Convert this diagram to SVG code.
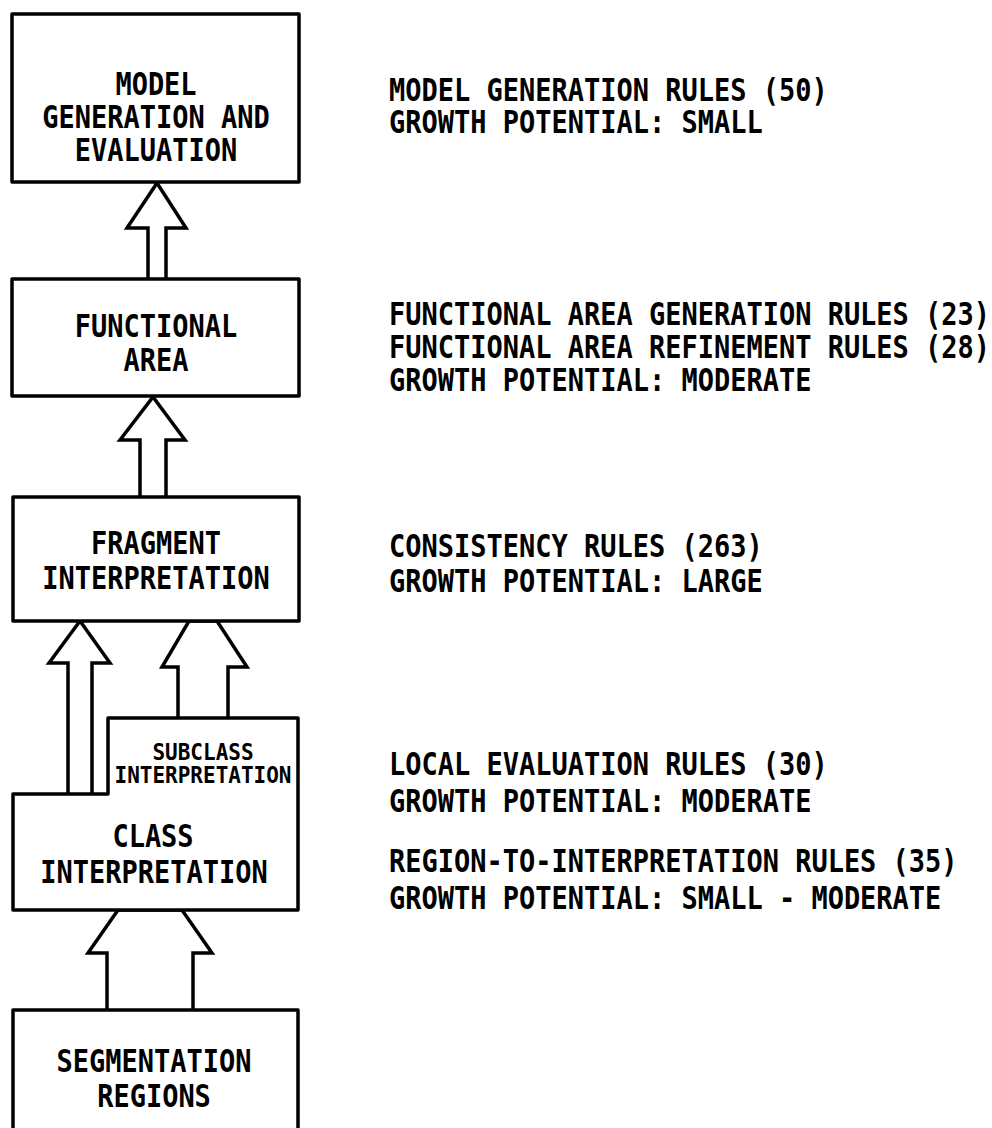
<svg xmlns="http://www.w3.org/2000/svg" width="992" height="1128" viewBox="0 0 992 1128">
<style>
.box{fill:#fff;stroke:#000;stroke-width:3.5;stroke-linejoin:round}
.arrow{fill:#fff;stroke:#000;stroke-width:3.5;stroke-linejoin:miter}
text{font-family:"DejaVu Sans Mono","Liberation Mono",monospace;font-weight:bold;fill:#000}
.lbl{font-size:27px;text-anchor:middle}
.small{font-size:21px;text-anchor:middle}
.note{font-size:27px}
</style>
<rect x="0" y="0" width="992" height="1128" fill="#fff"/>
<g id="connectors">
<path class="arrow" d="M148,279 V228 H127 L157,183 L186,228 H166 V279"/>
<path class="arrow" d="M140,497 V440 H120 L153,397 L185,440 H166 V497"/>
<path class="arrow" d="M68,794 V663 H49 L80,621 L110,663 H92 V794"/>
<path class="arrow" d="M178,718 V667 H162 L189,621 H217 L247,667 H228 V718"/>
<path class="arrow" d="M107,1010 V953 H88 L118,910 H182 L212,953 H193 V1010"/>
</g>
<g id="model-generation">
<rect class="box" x="12" y="14" width="287" height="168"/>
<text class="lbl" transform="matrix(1 0 0 1.15 156 95)">MODEL</text>
<text class="lbl" transform="matrix(1 0 0 1.15 156 128)">GENERATION AND</text>
<text class="lbl" transform="matrix(1 0 0 1.15 156 161)">EVALUATION</text>
</g>
<g id="functional-area">
<rect class="box" x="12" y="279" width="287" height="117"/>
<text class="lbl" transform="matrix(1 0 0 1.15 156 337)">FUNCTIONAL</text>
<text class="lbl" transform="matrix(1 0 0 1.15 156 371)">AREA</text>
</g>
<g id="fragment-interpretation">
<rect class="box" x="13" y="497" width="286" height="124"/>
<text class="lbl" transform="matrix(1 0 0 1.15 156 554)">FRAGMENT</text>
<text class="lbl" transform="matrix(1 0 0 1.15 156 589)">INTERPRETATION</text>
</g>
<g id="class-interpretation">
<path class="box" d="M13,794 H108 V718 H298 V910 H13 Z"/>
<text class="lbl" transform="matrix(1 0 0 1.15 153 847)">CLASS</text>
<text class="lbl" transform="matrix(1 0 0 1.15 154 883)">INTERPRETATION</text>
</g>
<g id="subclass-interpretation">
<text class="small" transform="matrix(1 0 0 1.1 203 760)">SUBCLASS</text>
<text class="small" transform="matrix(1 0 0 1.1 203 783)">INTERPRETATION</text>
</g>
<g id="segmentation-regions">
<rect class="box" x="13" y="1010" width="285" height="140"/>
<text class="lbl" transform="matrix(1 0 0 1.15 154 1072)">SEGMENTATION</text>
<text class="lbl" transform="matrix(1 0 0 1.15 154 1107)">REGIONS</text>
</g>
<g id="notes">
<text class="note" transform="matrix(1 0 0 1.15 389 101)">MODEL GENERATION RULES (50)</text>
<text class="note" transform="matrix(1 0 0 1.15 389 133)">GROWTH POTENTIAL: SMALL</text>
<text class="note" transform="matrix(1 0 0 1.15 389 325)">FUNCTIONAL AREA GENERATION RULES (23)</text>
<text class="note" transform="matrix(1 0 0 1.15 389 358)">FUNCTIONAL AREA REFINEMENT RULES (28)</text>
<text class="note" transform="matrix(1 0 0 1.15 389 391)">GROWTH POTENTIAL: MODERATE</text>
<text class="note" transform="matrix(1 0 0 1.15 389 557)">CONSISTENCY RULES (263)</text>
<text class="note" transform="matrix(1 0 0 1.15 389 592)">GROWTH POTENTIAL: LARGE</text>
<text class="note" transform="matrix(1 0 0 1.15 389 775)">LOCAL EVALUATION RULES (30)</text>
<text class="note" transform="matrix(1 0 0 1.15 389 812)">GROWTH POTENTIAL: MODERATE</text>
<text class="note" transform="matrix(1 0 0 1.15 389 872)">REGION-TO-INTERPRETATION RULES (35)</text>
<text class="note" transform="matrix(1 0 0 1.15 389 909)">GROWTH POTENTIAL: SMALL - MODERATE</text>
</g>
</svg>
